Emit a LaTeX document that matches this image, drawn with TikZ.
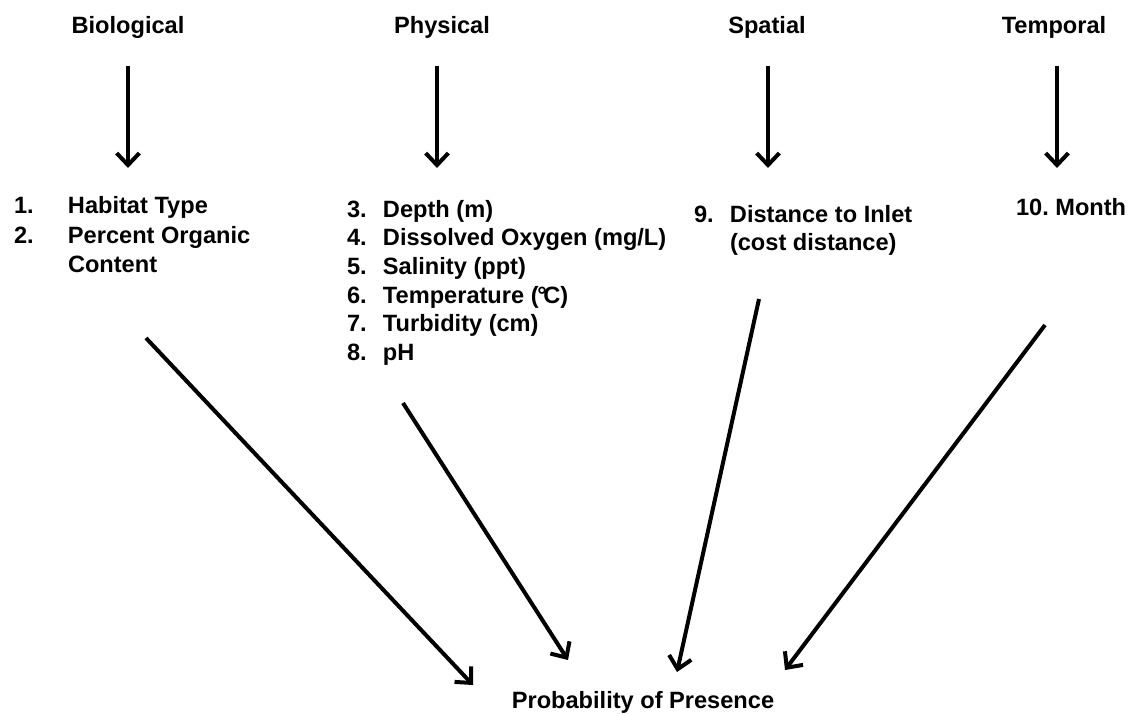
\documentclass[tikz,border=0pt]{standalone}
\usepackage{fontspec}
\setmainfont{Liberation Sans}
\usetikzlibrary{arrows.meta}

\begin{document}
\begin{tikzpicture}[x=0.75pt, y=-0.75pt, line width=3pt, >={Straight Barb[length=9pt,width=17pt]},
        every node/.style={font=\fontsize{17.7}{21.5}\selectfont\bfseries, inner sep=0pt},
        head/.style={anchor=base},
        items/.style={anchor=base west}]
    \useasboundingbox (0,0) rectangle (1128,714);
    % headings
    \node[head] (bio) at (128,33) {Biological};
    \node[head] (phys) at (442,33) {Physical};
    \node[head] (spat) at (767,33) {Spatial};
    \node[head] (temp) at (1054,33) {Temporal};
    % variable lists
    \node[items] (biolist) at (12,213) {\begin{tabular}[t]{@{}p{40.5pt}@{}l@{}}
        1. & Habitat Type\\[1.5pt]
        2. & Percent Organic\\
           & Content
        \end{tabular}};
    \node[items] (physlist) at (345,217) {\begin{tabular}[t]{@{}p{27pt}@{}l@{}}
        3. & Depth (m)\\
        4. & Dissolved Oxygen (mg/L)\\
        5. & Salinity (ppt)\\
        6. & Temperature (\kern-1pt°\kern-2.5pt C)\\
        7. & Turbidity (cm)\\
        8. & pH
        \end{tabular}};
    \node[items] (spatlist) at (692,222) {\begin{tabular}[t]{@{}p{27pt}@{}l@{}}
        9. & Distance to Inlet\\
           & (cost distance)
        \end{tabular}};
    \node[items] (templist) at (1014,215) {10.\ Month};
    \node[head] (prob) at (643,708) {Probability of Presence};
    % heading arrows
    \draw[->] ([yshift=-24.75pt]bio.base) -- ++(0,102);
    \draw[->] ([xshift=-3.75pt,yshift=-24.75pt]phys.base) -- ++(0,102);
    \draw[->] ([xshift=0.75pt,yshift=-24.75pt]spat.base) -- ++(0,102);
    \draw[->] ([xshift=2.25pt,yshift=-24.75pt]temp.base) -- ++(0,102);
    % arrows into the outcome
    \coordinate (bioout) at (146,338);
    \coordinate (physout) at (403,403);
    \coordinate (spatout) at (759,299);
    \coordinate (tempout) at (1045,325);
    \coordinate (probbio) at (473,685);
    \coordinate (probphys) at (568,660);
    \coordinate (probspat) at (677,672);
    \coordinate (probtemp) at (785,670);
    \draw[->] (bioout) -- (probbio);
    \draw[->] (physout) -- (probphys);
    \draw[->] (spatout) -- (probspat);
    \draw[->] (tempout) -- (probtemp);
\end{tikzpicture}
\end{document}
